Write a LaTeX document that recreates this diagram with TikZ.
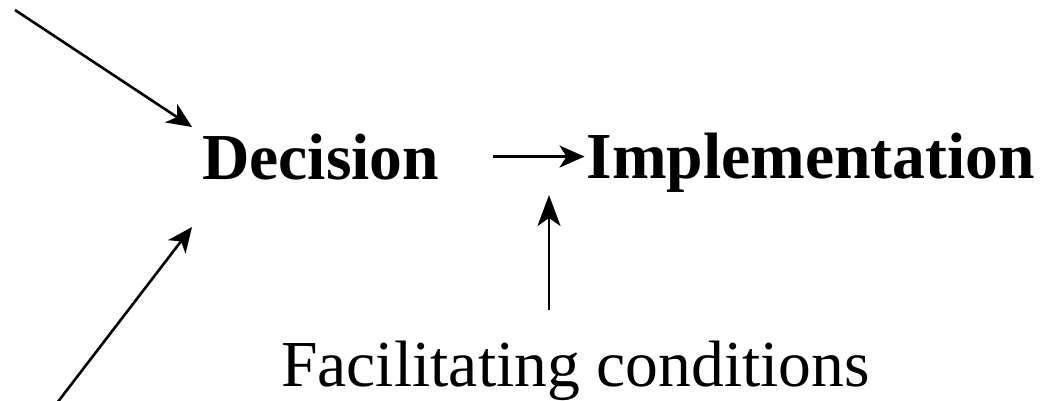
\documentclass[tikz,border=0pt]{standalone}
\usepackage{fontspec}
\setmainfont{Liberation Serif}
\usetikzlibrary{arrows.meta}
\begin{document}
\begin{tikzpicture}[x=1pt,y=-1pt,
  arr/.style={line width=2.6pt,-{Stealth[length=25pt,width=22pt,inset=7pt]}},
  varr/.style={line width=2.6pt,-{Stealth[length=31pt,width=23pt,inset=8pt]}},
  lbl/.style={anchor=base west,inner sep=0pt,font=\fontsize{65.6}{70}\selectfont}]
\useasboundingbox (0,0) rectangle (1057,401);
\node[lbl,font=\fontsize{65.6}{70}\selectfont\bfseries] (dec) at (202,179) {Decision};
\node[lbl,font=\fontsize{65.6}{70}\selectfont\bfseries] (imp) at (586.5,178) {Implementation};
\node[lbl] (fac) at (281,386) {Facilitating conditions};
\coordinate (a0) at (15,10);
\coordinate (a1) at (192,127);
\coordinate (b0) at (57,403);
\coordinate (b1) at (192,227);
\coordinate (v0) at (549,310);
\coordinate (v1) at (549,195);
\draw[arr] (a0) -- (a1);
\draw[arr] (b0) -- (b1);
\draw[arr] ([xshift=54pt]dec.east) -- ([xshift=-2pt]dec.east -| imp.west);
\draw[varr] (v0) -- (v1);
\end{tikzpicture}
\end{document}
